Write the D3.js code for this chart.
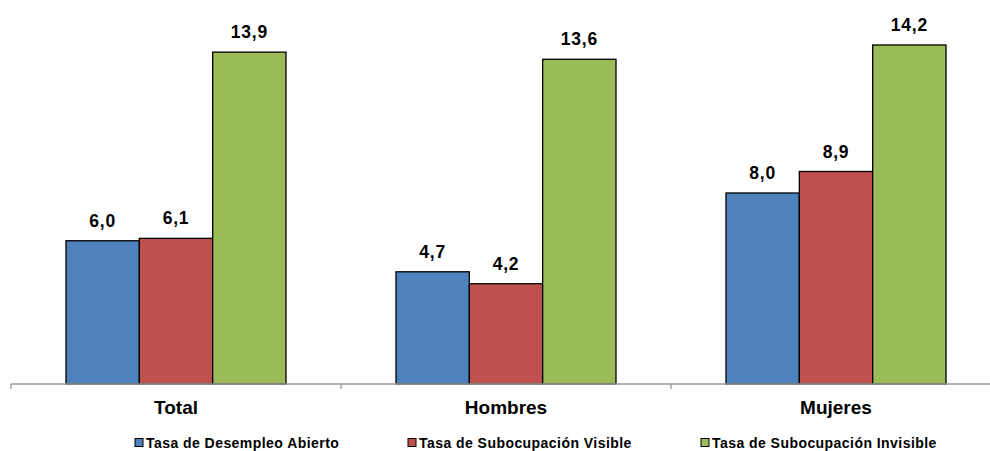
<!DOCTYPE html>
<html>
<head>
<meta charset="utf-8">
<script src="https://cdn.jsdelivr.net/npm/d3@7"></script>
<style>
  html, body { margin: 0; padding: 0; background: #fff; }
  svg { display: block; font-family: "Liberation Sans", Arial, sans-serif; }
</style>
</head>
<body>
<svg id="chart" width="990" height="451"></svg>
<script>
const categories = ["Total", "Hombres", "Mujeres"];
const seriesNames = ["Tasa de Desempleo Abierto", "Tasa de Subocupación Visible", "Tasa de Subocupación Invisible"];
const desempleoAbierto = [6.0, 4.7, 8.0];
const subocupacionVisible = [6.1, 4.2, 8.9];
const subocupacionInvisible = [13.9, 13.6, 14.2];
const seriesColors = ["#4F81BD", "#C0504D", "#9BBB59"];

const seriesValues = [desempleoAbierto, subocupacionVisible, subocupacionInvisible];
const fmt = v => v.toFixed(1).replace(".", ",");

const svg = d3.select("#chart");
const axisY = 384;

const x0 = d3.scaleBand().domain(categories).range([11, 1001]).paddingInner(0).paddingOuter(0);
const bw = x0.bandwidth();
const x1 = d3.scaleBand().domain(d3.range(seriesNames.length)).range([bw / 6, bw * 5 / 6]).padding(0);
const y = d3.scaleLinear().domain([0, 16]).range([axisY, 2]);

const groups = svg.selectAll("g.cat").data(categories).join("g")
  .attr("class", "cat")
  .attr("transform", d => `translate(${x0(d)},0)`);

groups.each(function(cat, ci) {
  const g = d3.select(this);
  seriesValues.forEach((vals, si) => {
    const v = vals[ci];
    g.append("rect")
      .attr("x", x1(si))
      .attr("y", y(v))
      .attr("width", x1.bandwidth())
      .attr("height", y(0) - y(v))
      .attr("fill", seriesColors[si])
      .attr("stroke", "#000")
      .attr("stroke-width", 1.3);
    g.append("text")
      .attr("x", x1(si) + x1.bandwidth() / 2)
      .attr("y", y(v) - 14)
      .attr("text-anchor", "middle")
      .attr("font-size", 17.5)
      .attr("font-weight", "bold")
      .attr("letter-spacing", 0.8)
      .attr("fill", "#000")
      .text(fmt(v));
  });
});

// x axis
const axis = d3.axisBottom(x0).tickSize(0).tickFormat("");
const axG = svg.append("g").attr("transform", `translate(0,${axisY})`).call(axis);
axG.select(".domain").attr("stroke", "#999").attr("stroke-width", 1.3).attr("d", `M11,0H1001`);
// boundary ticks
const bounds = categories.map(c => x0(c)).concat([x0(categories[categories.length - 1]) + bw]);
axG.selectAll("line.bt").data(bounds).join("line")
  .attr("class", "bt")
  .attr("x1", d => d).attr("x2", d => d)
  .attr("y1", 0).attr("y2", 5)
  .attr("stroke", "#999").attr("stroke-width", 1.3);

svg.selectAll("text.cat").data(categories).join("text")
  .attr("class", "cat")
  .attr("x", d => x0(d) + bw / 2)
  .attr("y", 414)
  .attr("text-anchor", "middle")
  .attr("font-size", 19)
  .attr("font-weight", "bold")
  .attr("fill", "#000")
  .text(d => d);

// legend
const legendX = [135, 408, 701];
const lg = svg.selectAll("g.leg").data(seriesNames).join("g")
  .attr("class", "leg")
  .attr("transform", (d, i) => `translate(${legendX[i]},438.5)`);
lg.append("rect")
  .attr("width", 8).attr("height", 8)
  .attr("fill", (d, i) => seriesColors[i])
  .attr("stroke", "#000").attr("stroke-width", 1);
lg.append("text")
  .attr("x", 11).attr("y", 9.5)
  .attr("font-size", 14)
  .attr("font-weight", "bold")
  .attr("letter-spacing", 0.45)
  .attr("fill", "#000")
  .text(d => d);
</script>
</body>
</html>
